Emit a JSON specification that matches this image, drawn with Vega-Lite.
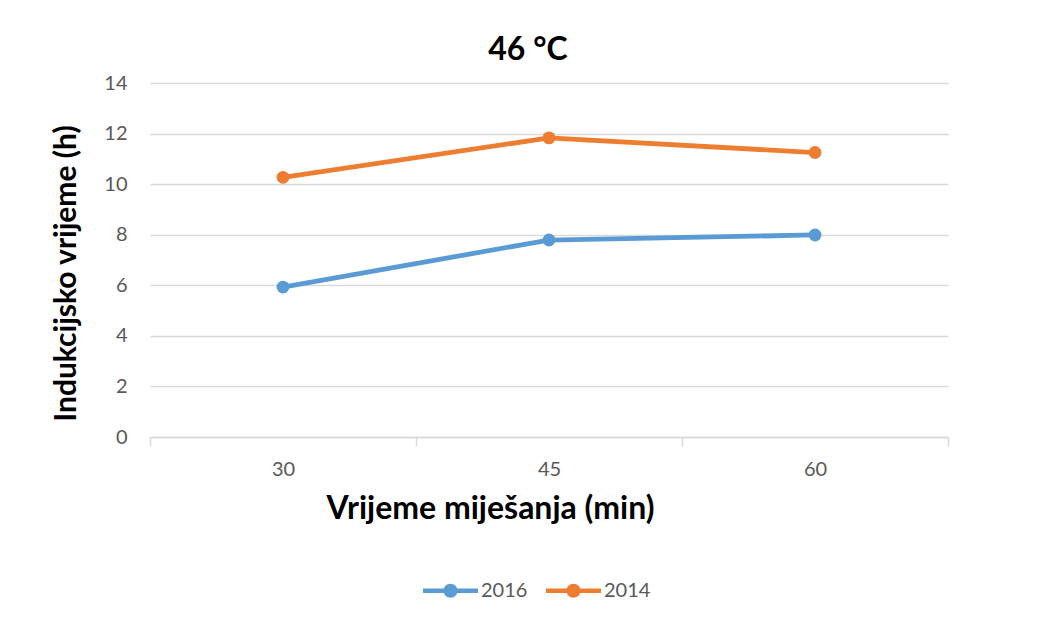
{
  "$schema": "https://vega.github.io/schema/vega-lite/v6.json",
  "width": 798,
  "height": 354,
  "autosize": {"type": "none"},
  "padding": {"left": 150, "top": 83, "right": 98, "bottom": 193},
  "background": "white",
  "title": {
    "text": "46 °C",
    "font": "Lato",
    "fontSize": 32,
    "fontWeight": "bold",
    "color": "#000000",
    "anchor": "middle",
    "dx": -21,
    "offset": 6
  },
  "data": {
    "values": [
      {"min": 30, "h": 5.93, "year": "2016"},
      {"min": 45, "h": 7.79, "year": "2016"},
      {"min": 60, "h": 7.99, "year": "2016"},
      {"min": 30, "h": 10.27, "year": "2014"},
      {"min": 45, "h": 11.83, "year": "2014"},
      {"min": 60, "h": 11.25, "year": "2014"}
    ]
  },
  "encoding": {
    "x": {
      "field": "min",
      "type": "quantitative",
      "scale": {"domain": [22.5, 67.5], "nice": false, "zero": false},
      "axis": {
        "title": "Vrijeme miješanja (min)",
        "values": [22.5, 30, 37.5, 45, 52.5, 60, 67.5],
        "labelExpr": "datum.value % 15 == 0 ? datum.label : ''",
        "tickOpacity": {"condition": {"test": "datum.value % 15 == 0", "value": 0}, "value": 1},
        "grid": false,
        "domainColor": "#D9D9D9",
        "domainWidth": 1.5,
        "tickColor": "#D9D9D9",
        "tickWidth": 1.5,
        "tickSize": 9,
        "labelPadding": 13,
        "labelFont": "Lato",
        "labelFontSize": 20,
        "labelColor": "#595959",
        "titleFont": "Lato",
        "titleFontSize": 32,
        "titleFontWeight": "bold",
        "titleColor": "#000000",
        "titleX": 340,
        "titlePadding": 14
      }
    },
    "y": {
      "field": "h",
      "type": "quantitative",
      "scale": {"domain": [0, 14], "nice": false},
      "axis": {
        "title": "Indukcijsko vrijeme (h)",
        "values": [0, 2, 4, 6, 8, 10, 12, 14],
        "grid": true,
        "gridColor": "#D9D9D9",
        "gridWidth": 1.5,
        "domain": false,
        "ticks": false,
        "labelPadding": 23,
        "labelFont": "Lato",
        "labelFontSize": 20,
        "labelColor": "#595959",
        "titleFont": "Lato",
        "titleFontSize": 30,
        "titleFontWeight": "bold",
        "titleColor": "#000000",
        "titleY": 190,
        "titlePadding": 22
      }
    },
    "color": {
      "field": "year",
      "type": "nominal",
      "scale": {"domain": ["2016", "2014"], "range": ["#5B9BD5", "#ED7D31"]},
      "legend": {
        "title": null,
        "orient": "none",
        "legendX": 273,
        "legendY": 480,
        "direction": "horizontal",
        "symbolType": "M-1,-0.08 H1 V0.08 H-1 Z M0.255,0 A0.255,0.255 0 1,1 -0.255,0 A0.255,0.255 0 1,1 0.255,0 Z",
        "symbolSize": 3025,
        "symbolStrokeWidth": 0,
        "labelFont": "Lato",
        "labelFontSize": 20,
        "labelColor": "#595959",
        "labelOffset": 3,
        "columnPadding": 18,
        "encode": {
          "symbols": {"update": {"fill": {"field": "value", "scale": "color"}, "fillOpacity": {"value": 1}, "size": {"value": 3025}, "strokeWidth": {"value": 0}}}
        }
      }
    }
  },
  "layer": [
    {"mark": {"type": "line", "strokeWidth": 4.8, "strokeCap": "round"}},
    {"mark": {"type": "point", "filled": true, "size": 165, "opacity": 1}}
  ],
  "config": {"view": {"stroke": null}}
}
